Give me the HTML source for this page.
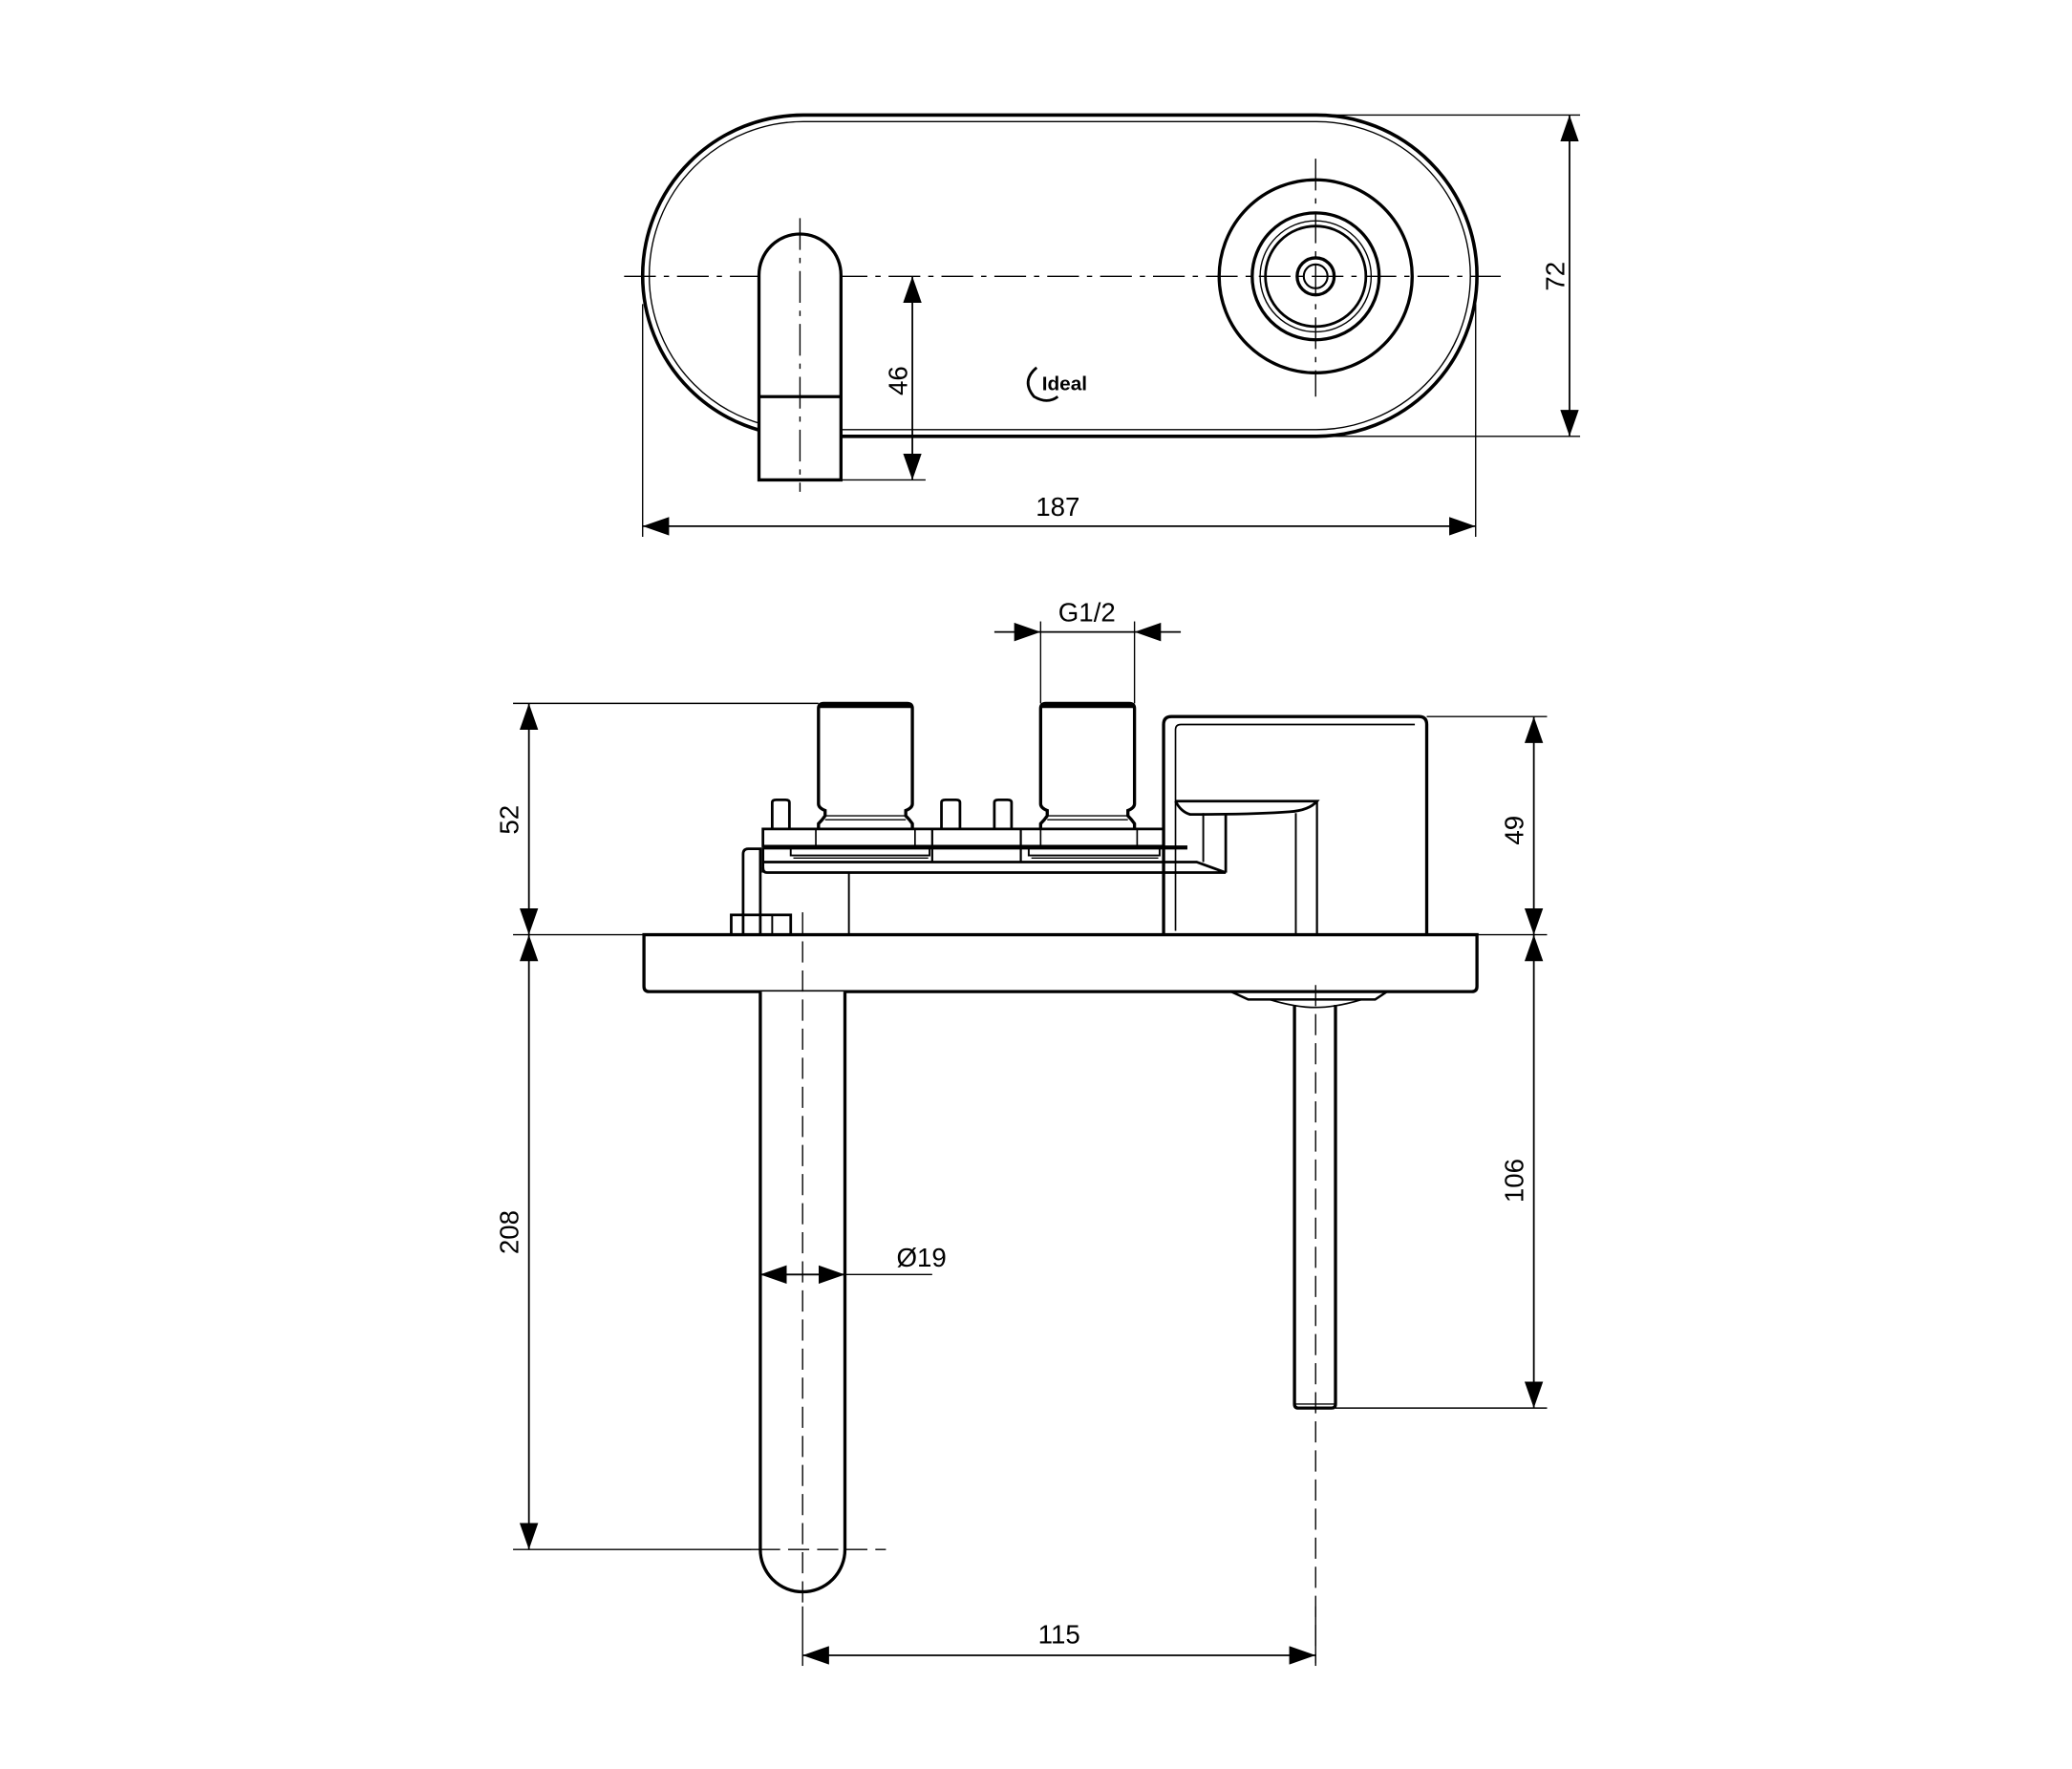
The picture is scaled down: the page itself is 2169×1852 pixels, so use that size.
<!DOCTYPE html>
<html><head><meta charset="utf-8"><style>
html,body{margin:0;padding:0;background:#fff;}
svg{display:block;}
text{font-family:"Liberation Sans",Arial,sans-serif;font-size:20px;fill:#000;}
</style></head><body>
<svg width="2169" height="1852" viewBox="0 0 1567 1338" xmlns="http://www.w3.org/2000/svg">
<defs>
<marker id="a" viewBox="0 0 20 14" refX="20" refY="7" markerWidth="20" markerHeight="14" markerUnits="userSpaceOnUse" orient="auto-start-reverse"><path d="M0,0 L20,7 L0,14z" fill="#000"/></marker>
</defs>
<rect width="1567" height="1338" fill="#fff"/>
<g fill="none" stroke="#000">
<!-- TOP VIEW -->
<rect x="486" y="87" width="631" height="243" rx="121.5" stroke-width="2.6"/>
<rect x="491" y="92" width="621" height="233" rx="116.5" stroke-width="1"/>
<line x1="472" y1="209" x2="1135" y2="209" stroke-width="1" stroke-dasharray="24,6,4,6"/>
<path d="M574,363 V208 A31,31 0 0 1 636,208 V363 Z" fill="#fff" stroke-width="2.4"/>
<line x1="574" y1="300" x2="636" y2="300" stroke-width="2.4"/>
<line x1="605" y1="165" x2="605" y2="372" stroke-width="1" stroke-dasharray="24,6,4,6"/>
<circle cx="995" cy="209" r="73" stroke-width="2.4"/>
<circle cx="995" cy="209" r="48" stroke-width="2.4"/>
<circle cx="995" cy="209" r="42" stroke-width="1"/>
<circle cx="995" cy="209" r="38" stroke-width="2"/>
<circle cx="995" cy="209" r="14" stroke-width="2.4"/>
<circle cx="995" cy="209" r="9" stroke-width="1.5"/>
<line x1="995" y1="120" x2="995" y2="300" stroke-width="1" stroke-dasharray="24,6,4,6"/>
<!-- dims top -->
<line x1="1000" y1="87" x2="1195" y2="87" stroke-width="1"/>
<line x1="1000" y1="330" x2="1195" y2="330" stroke-width="1"/>
<line x1="1187" y1="87" x2="1187" y2="330" stroke-width="1.3" marker-start="url(#a)" marker-end="url(#a)"/>
<line x1="636" y1="363" x2="700" y2="363" stroke-width="1"/>
<line x1="690" y1="209" x2="690" y2="363" stroke-width="1.3" marker-start="url(#a)" marker-end="url(#a)"/>
<line x1="486" y1="230" x2="486" y2="406" stroke-width="1"/>
<line x1="1116" y1="230" x2="1116" y2="406" stroke-width="1"/>
<line x1="486" y1="398" x2="1116" y2="398" stroke-width="1.3" marker-start="url(#a)" marker-end="url(#a)"/>

<!-- SIDE VIEW -->
<path d="M487,707 H1117 V746 Q1117,750 1113,750 H491 Q487,750 487,746 Z" stroke-width="2.4"/>
<path d="M931,750 L944,756 H1040 L1049,750" stroke-width="1.8"/>
<path d="M960,756 Q980,762 995,762 Q1010,762 1030,756" stroke-width="1.2"/>
<path d="M575,750 V1172 A32,32 0 0 0 639,1172 V750" stroke-width="2.4" fill="#fff"/>
<line x1="607" y1="690" x2="607" y2="1215" stroke-width="1" stroke-dasharray="16,6"/>
<line x1="552" y1="1172" x2="670" y2="1172" stroke-width="1" stroke-dasharray="16,6"/>
<path d="M979,760 V1062 Q979,1065 982,1065 H1007 Q1010,1065 1010,1062 V760" stroke-width="2.4"/>
<line x1="979" y1="1062" x2="1010" y2="1062" stroke-width="1"/>
<line x1="995" y1="745" x2="995" y2="1258" stroke-width="1" stroke-dasharray="16,6"/>
<path d="M880,707 V548 Q880,542 886,542 H1073 Q1079,542 1079,548 V707" stroke-width="2.4"/>
<path d="M889,704 V552 Q889,548 893,548 H1070" stroke-width="1.2"/>
<path d="M889,606 H996 Q990,613 975,614 Q950,616 900,616 Q893,614 889,606" stroke-width="2"/>
<line x1="996" y1="606" x2="996" y2="707" stroke-width="1.6"/>
<line x1="980" y1="615" x2="980" y2="707" stroke-width="1.4"/>
<line x1="927" y1="615" x2="927" y2="660" stroke-width="2"/>
<line x1="910" y1="615" x2="910" y2="652" stroke-width="1.4"/>
<rect x="577" y="627" width="303" height="13" stroke-width="2"/>
<line x1="577" y1="641" x2="898" y2="641" stroke-width="3"/>
<path d="M577,652 H905 L927,660 H580 Q577,660 577,656" stroke-width="2"/>
<line x1="577" y1="641" x2="577" y2="660" stroke-width="2"/>
<line x1="705" y1="627" x2="705" y2="652" stroke-width="1.6"/>
<line x1="772" y1="627" x2="772" y2="652" stroke-width="1.6"/>
<line x1="617" y1="627" x2="617" y2="640" stroke-width="1.2"/>
<line x1="692" y1="627" x2="692" y2="640" stroke-width="1.2"/>
<line x1="787" y1="627" x2="787" y2="640" stroke-width="1.2"/>
<line x1="860" y1="627" x2="860" y2="640" stroke-width="1.2"/>
<path d="M598,642 V647 H703 V642" stroke-width="1.4"/>
<path d="M778,642 V647 H877 V642" stroke-width="1.4"/>
<line x1="600" y1="649" x2="702" y2="649" stroke-width="1"/>
<line x1="780" y1="649" x2="876" y2="649" stroke-width="1"/>
<path d="M584,627 V607 Q584,605 587,605 H594 Q597,605 597,607 V627" stroke-width="2"/>
<path d="M712,627 V607 Q712,605 715,605 H723 Q726,605 726,607 V627" stroke-width="2"/>
<path d="M752,627 V607 Q752,605 755,605 H762 Q765,605 765,607 V627" stroke-width="2"/>
<path d="M619,627 V623 Q622,620 624,617 L624,613 Q619,611 619,608 V536 Q619,532 623,532 H686 Q690,532 690,536 V608 Q690,611 685,613 L685,617 Q688,620 690,623 V627" stroke-width="2.4"/>
<line x1="619" y1="534" x2="690" y2="534" stroke-width="3"/>
<line x1="624" y1="617" x2="685" y2="617" stroke-width="1"/>
<line x1="624" y1="620" x2="685" y2="620" stroke-width="1"/>
<path d="M787,627 V623 Q790,620 792,617 L792,613 Q787,611 787,608 V536 Q787,532 791,532 H854 Q858,532 858,536 V608 Q858,611 853,613 L853,617 Q856,620 858,623 V627" stroke-width="2.4"/>
<line x1="787" y1="534" x2="858" y2="534" stroke-width="3"/>
<line x1="792" y1="617" x2="853" y2="617" stroke-width="1"/>
<line x1="792" y1="620" x2="853" y2="620" stroke-width="1"/>
<path d="M562,707 V646 Q562,642 566,642 H575 V707" stroke-width="2"/>
<rect x="553" y="692" width="45" height="15" stroke-width="2"/>
<line x1="575" y1="692" x2="575" y2="707" stroke-width="1.4"/>
<line x1="584" y1="692" x2="584" y2="707" stroke-width="1.4"/>
<line x1="642" y1="660" x2="642" y2="707" stroke-width="1.4"/>
<line x1="388" y1="532" x2="619" y2="532" stroke-width="1"/>
<line x1="388" y1="707" x2="487" y2="707" stroke-width="1"/>
<line x1="400" y1="532" x2="400" y2="707" stroke-width="1.3" marker-start="url(#a)" marker-end="url(#a)"/>
<line x1="400" y1="707" x2="400" y2="1172" stroke-width="1.3" marker-start="url(#a)" marker-end="url(#a)"/>
<line x1="388" y1="1172" x2="575" y2="1172" stroke-width="1"/>
<line x1="1079" y1="542" x2="1170" y2="542" stroke-width="1"/>
<line x1="1117" y1="707" x2="1170" y2="707" stroke-width="1"/>
<line x1="1010" y1="1065" x2="1170" y2="1065" stroke-width="1"/>
<line x1="1160" y1="542" x2="1160" y2="707" stroke-width="1.3" marker-start="url(#a)" marker-end="url(#a)"/>
<line x1="1160" y1="707" x2="1160" y2="1065" stroke-width="1.3" marker-start="url(#a)" marker-end="url(#a)"/>
<line x1="607" y1="1215" x2="607" y2="1260" stroke-width="1"/>
<line x1="995" y1="1215" x2="995" y2="1260" stroke-width="1"/>
<line x1="607" y1="1252" x2="995" y2="1252" stroke-width="1.3" marker-start="url(#a)" marker-end="url(#a)"/>
<line x1="787" y1="470" x2="787" y2="532" stroke-width="1"/>
<line x1="858" y1="470" x2="858" y2="532" stroke-width="1"/>
<line x1="752" y1="478" x2="787" y2="478" stroke-width="1.3" marker-end="url(#a)"/>
<line x1="893" y1="478" x2="858" y2="478" stroke-width="1.3" marker-end="url(#a)"/>
<line x1="787" y1="478" x2="858" y2="478" stroke-width="1.3"/>
<line x1="575" y1="964" x2="639" y2="964" stroke-width="1.3" marker-start="url(#a)" marker-end="url(#a)"/>
<line x1="639" y1="964" x2="705" y2="964" stroke-width="1"/>
</g>
<g>
<path d="M784,278 Q772,288 782,300 Q792,306 800,300" fill="none" stroke="#000" stroke-width="2"/>
<text x="788" y="295" style="font-size:15px;font-weight:bold;">Ideal</text>
</g>
<text x="1183" y="209" text-anchor="middle" transform="rotate(-90 1183 209)">72</text>
<text x="686" y="288" text-anchor="middle" transform="rotate(-90 686 288)">46</text>
<text x="800" y="390" text-anchor="middle">187</text>
<text x="822" y="470" text-anchor="middle">G1/2</text>
<text x="392" y="620" text-anchor="middle" transform="rotate(-90 392 620)">52</text>
<text x="392" y="932" text-anchor="middle" transform="rotate(-90 392 932)">208</text>
<text x="1152" y="628" text-anchor="middle" transform="rotate(-90 1152 628)">49</text>
<text x="1152" y="893" text-anchor="middle" transform="rotate(-90 1152 893)">106</text>
<text x="801" y="1243" text-anchor="middle">115</text>
<text x="678" y="958">Ø19</text>
</svg>
</body></html>
